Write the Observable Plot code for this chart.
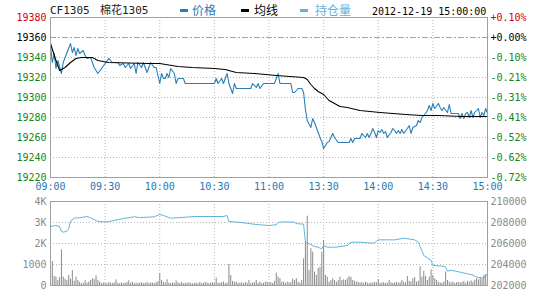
<!DOCTYPE html>
<html><head><meta charset="utf-8">
<script src="https://cdn.jsdelivr.net/npm/d3@7"></script>
<script src="https://cdn.jsdelivr.net/npm/@observablehq/plot@0.6"></script>
<style>
body{margin:0;background:#fff;}
#wrap{position:relative;width:540px;height:300px;overflow:hidden;background:#fff;}
#wrap svg{position:absolute;left:0;top:0;}
.h{position:absolute;white-space:nowrap;line-height:14px;}
.mono{font-family:"DejaVu Sans Mono","Noto Sans CJK SC",monospace;}
.cjk{font-family:"Noto Sans CJK SC","DejaVu Sans",sans-serif;font-size:12px;}
.sw{position:absolute;width:8px;height:3px;top:9px;}
</style></head><body>
<div id="wrap">
  <div class="h mono" style="left:50px;top:4px;font-size:11px;color:#222">CF1305</div>
  <div class="h mono" style="left:100px;top:4px;font-size:11px;color:#222">棉花1305</div>
  <div class="sw" style="left:180px;background:#2a7fb5"></div>
  <div class="h cjk" style="left:192px;top:3px;color:#2a7fb5">价格</div>
  <div class="sw" style="left:241px;background:#000"></div>
  <div class="h cjk" style="left:254px;top:3px;color:#000">均线</div>
  <div class="sw" style="left:300px;background:#62b4dc"></div>
  <div class="h cjk" style="left:315px;top:3px;color:#62b4dc">持仓量</div>
  <div class="h mono" style="left:372px;top:5px;font-size:10px;color:#000">2012-12-19 15:00:00</div>
</div>
<script>
// ---- data ----
const timeTicks = [0, 30, 60, 90, 120, 150, 180, 210, 240];
const timeLabels = ["09:00","09:30","10:00","10:30","11:00","13:30","14:00","14:30","15:00"];
const prevSettle = 19360;
const priceTicks = [19380, 19360, 19340, 19320, 19300, 19280, 19260, 19240, 19220];
const pctLabels = ["+0.10%","+0.00%","-0.10%","-0.21%","-0.31%","-0.41%","-0.52%","-0.62%","-0.72%"];
const volTicks = [4000, 3000, 2000, 1000, 0];
const volLabels = ["4K","3K","2K","1000","0"];
const oiTicks = [210000, 208000, 206000, 204000, 202000];

const priceMin = [0,1,2,3,4,6,7,8,11,12,13,14,15,16,18,19,20,22,23,24,26,28,30,32,34,37,38,40,41,43,44,46,47,48,50,51,53,54,55,57,58,60,
  61,62,63,64,65,66,68,69,70,73,74,90,91,92,94,95,96,97,98,99,100,101,102,110,111,113,114,115,117,120,123,125,126,132,133,134,136,138,139,
  140,141,143,144,145,146,148,149,150,152,153,154,155,156,158,164,165,166,167,170,171,173,174,175,176,177,178,179,
  180,181,182,183,184,185,187,188,189,190,191,192,193,194,196,197,198,199,201,202,203,204,205,206,207,208,209,210,211,213,214,215,216,218,219,
  220,222,224,225,226,227,228,229,230,231,232,233,235,236,237,238,239,240];
const priceVal = [19352,19335,19344,19329,19337,19324,19335,19340,19354,19345,19350,19342,19349,19344,19347,19342,19339,19340,19335,19330,19324,19329,19334,19339,19335,19335,19332,19334,19330,19334,19329,19334,19324,19335,19330,19335,19325,19330,19335,19330,19330,19314,
  19324,19319,19319,19324,19320,19329,19324,19314,19319,19319,19314,19314,19319,19314,19319,19314,19319,19324,19314,19309,19304,19314,19309,19309,19314,19310,19314,19309,19314,19314,19314,19324,19314,19314,19305,19305,19309,19309,19305,
  19288,19277,19270,19279,19275,19270,19260,19256,19249,19255,19256,19260,19264,19260,19255,19255,19259,19255,19259,19259,19264,19260,19264,19260,19264,19269,19265,19260,
  19267,19265,19268,19264,19266,19260,19265,19269,19267,19264,19267,19264,19268,19264,19269,19272,19264,19270,19272,19277,19275,19280,19282,19284,19287,19292,19287,19294,19289,19294,19290,19287,19290,19285,19293,
  19284,19284,19284,19279,19284,19279,19284,19285,19280,19287,19280,19285,19289,19280,19285,19282,19289,19284];

const avgMin = [0,3,5,8,11,14,17,23,26,32,54,60,70,78,90,96,102,112,124,139,141,143,145,147,150,153,156,159,163,170,181,188,195,204,213,226,240];
const avgVal = [19354,19337,19327,19330,19335,19339,19340,19340,19337,19335,19334,19334,19331,19330,19329,19328,19325,19324,19322,19320,19318,19313,19309,19306,19303,19297,19294,19291,19290,19287,19285,19284,19283,19282,19282,19281,19281];

const volume = [
  0,1140,430,400,240,380,1700,400,300,240,
  480,300,710,200,400,240,150,80,100,240,
  120,160,240,320,280,460,240,160,90,120,
  100,80,150,110,90,130,270,100,80,120,
  90,110,140,220,100,160,80,120,90,110,
  130,90,100,150,80,120,110,90,140,180,
  560,240,150,120,270,110,90,130,100,220,
  120,90,150,80,110,100,130,90,70,100,
  120,80,140,90,100,150,110,80,120,130,
  90,350,110,100,140,160,90,120,1000,476,
  200,150,160,90,110,130,80,140,100,240,
  90,120,130,240,100,160,90,110,160,150,
  120,140,100,200,590,400,320,150,160,100,
  160,120,140,300,240,320,160,110,240,1270,
  2060,3300,720,1750,1590,640,480,800,870,1590,
  2140,480,400,160,240,320,240,160,240,400,
  240,270,240,320,430,380,240,200,160,150,
  120,140,100,160,120,90,130,110,150,120,
  270,100,120,140,90,110,240,130,100,120,
  150,110,130,240,160,120,430,200,160,320,
  380,150,200,900,400,680,430,240,400,750,
  476,320,240,150,120,100,160,640,240,160,
  120,160,100,130,150,120,140,190,110,200,
  160,220,150,240,320,270,380,300,480,520,
  600];

const oiMin = [0,3,5,6,7,9,10,11,13,16,20,22,26,31,35,40,46,49,57,60,62,66,70,79,95,97,98,103,108,113,120,124,125,128,134,135,139,
  140,142,143,145,147,149,150,152,157,163,165,170,176,178,180,189,194,200,202,203,205,207,209,210,215,217,218,220,225,229,232,234,238,239,240];
const oiVal = [207620,207714,207620,207171,207076,207170,207430,208124,208410,208450,208571,208450,208095,208060,208190,208381,208540,208470,208540,208762,208670,208410,208450,208571,208571,208667,208095,208030,207930,207810,207714,207780,208000,208060,208030,207900,207840,
  206124,205968,205900,205714,205650,205492,205810,205650,205650,205810,206124,206124,206030,206060,206349,206349,206508,206349,206124,205714,204857,204635,204400,203905,203850,203750,203365,203460,203270,203111,203000,202794,202698,202952,203050];

// ---- tables ----
const prices = priceMin.map((m, i) => ({m, p: priceVal[i]}));
const avg = avgMin.map((m, i) => ({m, p: avgVal[i]}));
const vols = volume.map((v, m) => ({m, v}));
const oi = oiMin.map((m, i) => ({m, v: oiVal[i]}));

const W = 540, H = 300;
const font = "DejaVu Sans Mono";
const grid = {stroke: "#b8b8b8", strokeOpacity: 1, strokeDasharray: "1,2"};
const frameColor = "#a0a0a0";
const green = "#13851a", red = "#d40000";
const style = {background: "transparent", fontFamily: font, fontSize: "10px"};

const pricePlot = Plot.plot({
  width: W, height: H, marginLeft: 50, marginRight: 53, marginTop: 17, marginBottom: 123,
  style,
  x: {domain: [0, 240], axis: null},
  y: {domain: [19220, 19380], axis: null},
  marks: [
    Plot.gridX(timeTicks.slice(1, -1), grid),
    Plot.gridY(priceTicks.slice(1, -1).filter(d => d !== prevSettle), grid),
    Plot.ruleY([prevSettle], {stroke: "#e89e00", strokeWidth: 1, strokeDasharray: "6,2,2,2"}),
    Plot.line(prices, {x: "m", y: "p", stroke: "#2a7fb5", strokeWidth: 1.1}),
    Plot.line(avg, {x: "m", y: "p", stroke: "#000", strokeWidth: 1.1}),
    Plot.frame({stroke: frameColor}),
    Plot.text(priceTicks, {y: d => d, frameAnchor: "left", dx: -4, textAnchor: "end", text: d => String(d),
      fontFamily: font, fontSize: 10, fill: d => d > prevSettle ? red : d === prevSettle ? "#000" : green}),
    Plot.text(priceTicks, {y: d => d, frameAnchor: "right", dx: 3, textAnchor: "start", text: (d, i) => pctLabels[i],
      fontFamily: font, fontSize: 10, fill: d => d > prevSettle ? red : d === prevSettle ? "#000" : green}),
    Plot.text(timeTicks, {x: d => d, frameAnchor: "bottom", dy: 12, text: (d, i) => timeLabels[i],
      fontFamily: font, fontSize: 10, fill: "#2878b0"})
  ]
});

const volPlot = Plot.plot({
  width: W, height: H, marginLeft: 50, marginRight: 53, marginTop: 201, marginBottom: 15,
  style,
  x: {domain: [0, 240], axis: null},
  y: {domain: [0, 4000], axis: null},
  marks: [
    Plot.gridX(timeTicks.slice(1, -1), grid),
    Plot.gridY([1000, 2000, 3000], grid),
    Plot.ruleX(vols, {x: "m", y1: 0, y2: "v", stroke: "#8a8a8a", strokeWidth: 1}),
    Plot.frame({stroke: frameColor}),
    Plot.text(volTicks, {y: d => d, frameAnchor: "left", dx: -4, textAnchor: "end", text: (d, i) => volLabels[i],
      fontFamily: font, fontSize: 10, fill: "#8a8a8a"})
  ]
});

const oiPlot = Plot.plot({
  width: W, height: H, marginLeft: 50, marginRight: 53, marginTop: 201, marginBottom: 15,
  style,
  x: {domain: [0, 240], axis: null},
  y: {domain: [202000, 210000], axis: null},
  marks: [
    Plot.line(oi, {x: "m", y: "v", stroke: "#62b4dc", strokeWidth: 1}),
    Plot.text(oiTicks, {y: d => d, frameAnchor: "right", dx: 3, textAnchor: "start", text: d => String(d),
      fontFamily: font, fontSize: 10, fill: "#8a8a8a"})
  ]
});

const wrap = document.getElementById("wrap");
wrap.prepend(oiPlot);
wrap.prepend(volPlot);
wrap.prepend(pricePlot);
</script>
</body></html>
